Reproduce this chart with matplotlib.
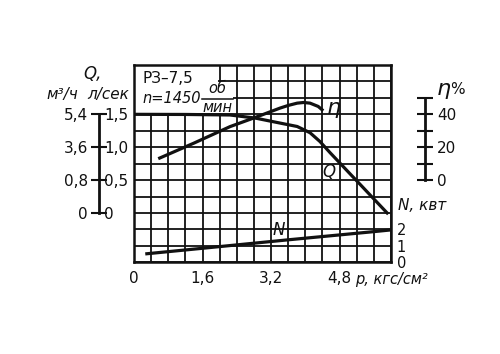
import matplotlib
matplotlib.use("Agg")
import matplotlib.pyplot as plt
from matplotlib.patches import Rectangle
import numpy as np

plt.rcParams['font.family'] = ['DejaVu Sans']

# ---- data ----
p_Q = [0.0, 1.2, 2.24, 2.83, 3.41, 3.81, 4.11, 4.34, 4.58, 4.81, 5.04, 5.28, 5.51, 5.74, 5.91]
Q_ls = [1.50, 1.498, 1.49, 1.443, 1.367, 1.315, 1.22, 1.087, 0.915, 0.757, 0.598, 0.434, 0.275, 0.117, 0.0]

p_eta = [0.6, 1.4, 2.24, 2.83, 3.41, 3.6, 3.81, 3.96, 4.11, 4.3, 4.39]
eta = [13.4, 22.5, 32.5, 38.1, 43.8, 45.4, 46.8, 47.2, 46.8, 44.8, 42.8]

p_N = [0.3, 1.94, 3.57, 5.58, 6.0]
N_kw = [0.52, 0.94, 1.36, 1.86, 1.97]

p_ticks = [0, 1.6, 3.2, 4.8]
p_tick_labels = ["0", "1,6", "3,2", "4,8"]
Q_ticks = [0, 0.5, 1.0, 1.5]
Q_ls_labels = ["0", "0,5", "1,0", "1,5"]
Q_m3h_labels = ["0", "0,8", "3,6", "5,4"]
eta_ticks = [0, 10, 20, 30, 40, 50]
eta_labels = ["0", "", "20", "", "40", ""]
N_labels = ["0", "1", "2"]

W, H = 500, 354
fig = plt.figure(figsize=(W / 100, H / 100), dpi=100)
L, R, T, B = 134, 391, 65, 262.3
ax = fig.add_axes([L / W, 1 - B / H, (R - L) / W, (B - T) / H])

def fx(x):
    return x / W

def fy(y):
    return 1 - y / H

FS = 11
INK = '#111111'
LW = 2.3

# twin axes for Q (two label sides) and eta
axq = ax.twinx()
axq2 = ax.twinx()
axe = ax.twinx()

# ---- main axis: grid, p and N ----
ax.set_xlim(0, 6.0)
ax.set_ylim(0, 12)
xt = np.round(np.arange(0, 6.001, 0.4), 2)
ax.set_xticks(xt)
ax.set_xticklabels([p_tick_labels[p_ticks.index(v)] if v in p_ticks else "" for v in xt], fontsize=FS)
yt = np.arange(0, 12.001, 1)
ax.set_yticks(yt)
ax.yaxis.tick_right()
ax.set_yticklabels([N_labels[int(v)] if v < len(N_labels) else "" for v in yt], fontsize=10.5)
ax.tick_params(axis='x', length=0, pad=6.5, colors=INK)
ax.tick_params(axis='y', length=0, pad=4, colors=INK)
ax.grid(True, color=INK, linewidth=1.3)
ax.set_axisbelow(True)
for s in ax.spines.values():
    s.set_linewidth(1.8)
    s.set_color(INK)

# white header box over the grid
ax.add_patch(Rectangle((0, 9.07), 1.97, 2.93, facecolor='white', edgecolor='none', zorder=1))
ax.add_patch(Rectangle((1.9, 9.07), 0.41, 1.87, facecolor='white', edgecolor='none', zorder=1))

ax.text(0.2, 10.9, "РЗ–7,5", fontsize=FS, va='baseline', ha='left', color=INK, zorder=3)
ax.text(0.19, 9.70, "n=1450", fontsize=10.5, style='italic', va='baseline', ha='left', color=INK, zorder=3)
ax.text(1.94, 10.31, "об", fontsize=10.5, style='italic', va='baseline', ha='center', color=INK, zorder=3)
ax.text(1.95, 9.15, "мин", fontsize=10.5, style='italic', va='baseline', ha='center', color=INK, zorder=3)
ax.plot([1.59, 2.31], [9.94, 9.94], color=INK, lw=1.1, zorder=3)

ax.plot(p_N, N_kw, color=INK, lw=LW, zorder=4)
ax.text(3.39, 1.95, "N", fontsize=FS + 1, style='italic', ha='center', va='center', color=INK)

# ---- Q axis (l/s on right side of spine) ----
pos_q = (99 - L) / (R - L)
for a in (axq, axq2):
    a.set_ylim(-0.75, 2.25)
    for s in a.spines.values():
        s.set_visible(False)
axq.spines['right'].set_visible(True)
axq.spines['right'].set_position(('axes', pos_q))
axq.spines['right'].set_bounds(0, 1.5)
axq.spines['right'].set_linewidth(2.0)
axq.spines['right'].set_color(INK)
axq.set_yticks(Q_ticks)
axq.set_yticklabels(Q_ls_labels, fontsize=FS)
axq.tick_params(axis='y', direction='inout', length=11, width=1.5, pad=-1.8, colors=INK)

axq2.yaxis.tick_left()
axq2.spines['left'].set_position(('axes', pos_q))
axq2.set_yticks(Q_ticks)
axq2.set_yticklabels(Q_m3h_labels, fontsize=FS)
axq2.tick_params(axis='y', length=0, pad=8, colors=INK)

axq.plot(p_Q, Q_ls, color=INK, lw=LW, zorder=4)
axq.text(4.55, (5.5 - 3) / 4, "Q", fontsize=FS + 1, style='italic', ha='center', va='center', color=INK)

# ---- eta axis ----
axe.set_ylim(-50, 70)
for s in axe.spines.values():
    s.set_visible(False)
axe.spines['right'].set_visible(True)
axe.spines['right'].set_position(('axes', (425 - L) / (R - L)))
axe.spines['right'].set_bounds(0, 50)
axe.spines['right'].set_linewidth(2.0)
axe.spines['right'].set_color(INK)
axe.set_yticks(eta_ticks)
axe.set_yticklabels(eta_labels, fontsize=FS)
axe.tick_params(axis='y', direction='inout', length=11.5, width=1.5, pad=3, colors=INK)
axe.plot(p_eta, eta, color=INK, lw=LW, zorder=4)
axe.text(4.66, 44, "η", fontsize=FS + 5, style='italic', ha='center', va='center', color=INK)

# ---- outer labels ----
fig.text(fx(92), fy(74), "Q,", fontsize=FS + 1, style='italic', ha='center', va='center', color=INK)
fig.text(fx(62), fy(99), "м³/ч", fontsize=FS, style='italic', ha='center', va='baseline', color=INK)
fig.text(fx(108), fy(99), "л/сек", fontsize=FS, style='italic', ha='center', va='baseline', color=INK)
fig.text(fx(437), fy(89), "η", fontsize=FS + 5, style='italic', ha='left', va='center', color=INK)
fig.text(fx(450), fy(89), "%", fontsize=FS, ha='left', va='center', color=INK)
fig.text(fx(398), fy(205), "N, квт", fontsize=FS, style='italic', ha='left', va='center', color=INK)
fig.text(fx(355), fy(284), "p, кгс/см²", fontsize=10.5, style='italic', ha='left', va='baseline', color=INK)

fig.savefig("out.png", dpi=100, facecolor='white')
